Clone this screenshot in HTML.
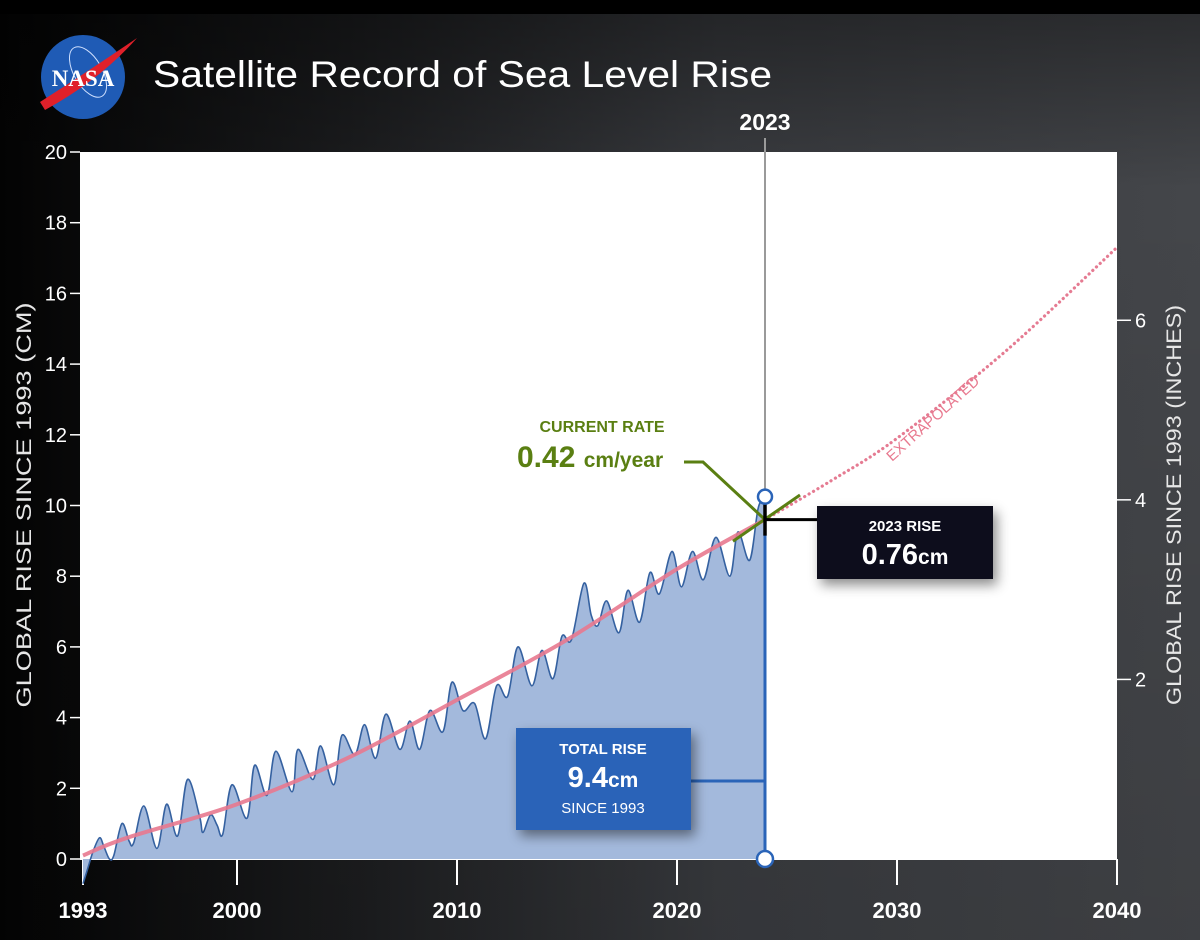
<!DOCTYPE html>
<html><head><meta charset="utf-8">
<style>
html,body{margin:0;padding:0;width:1200px;height:940px;overflow:hidden;background:#000;}
svg{display:block;font-family:"Liberation Sans",Arial,sans-serif;}
</style></head>
<body>
<svg id="chart" width="1200" height="940" viewBox="0 0 1200 940">
<defs>
<linearGradient id="bg" x1="0" y1="0" x2="1" y2="0">
<stop offset="0" stop-color="#030303"/><stop offset="0.3" stop-color="#1c1d1f"/><stop offset="0.6" stop-color="#393b3f"/><stop offset="1" stop-color="#44464a"/>
</linearGradient>
<linearGradient id="bgv" x1="0" y1="0" x2="0" y2="1">
<stop offset="0" stop-color="#000" stop-opacity="0.4"/><stop offset="0.2" stop-color="#000" stop-opacity="0"/><stop offset="1" stop-color="#000" stop-opacity="0.1"/>
</linearGradient>
<filter id="sh" x="-20%" y="-20%" width="150%" height="160%"><feDropShadow dx="4" dy="6" stdDeviation="6" flood-color="#000" flood-opacity="0.45"/></filter>
<clipPath id="plotclip"><rect x="80" y="152" width="1037" height="740"/></clipPath>
</defs>
<rect x="0" y="0" width="1200" height="940" fill="url(#bg)"/>
<rect x="0" y="0" width="1200" height="940" fill="url(#bgv)"/>
<rect x="0" y="0" width="1200" height="14" fill="#000"/>

<g>
<circle cx="83" cy="77" r="42" fill="#1f5bb5"/>
<ellipse cx="88" cy="72" rx="14" ry="28" fill="none" stroke="#cfe0ff" stroke-width="1" transform="rotate(-30 88 72)"/>
<path d="M40 102 Q90 70 137 38 Q100 80 45 110 Z" fill="#e0202a"/>
<text x="83" y="86" text-anchor="middle" fill="#fff" font-family="Liberation Serif,serif" font-weight="bold" font-size="23">NASA</text>
</g>
<text x="153" y="87" fill="#fff" font-size="37" textLength="619" lengthAdjust="spacingAndGlyphs">Satellite Record of Sea Level Rise</text>

<rect x="80" y="152" width="1037" height="707" fill="#fff"/>

<g id="yaxis"></g>
<g id="yaxisR"></g>
<g id="xaxis"></g>
<g id="series" clip-path="url(#plotclip)"></g>
<g id="annot"></g>

<text transform="translate(31 505) rotate(-90)" text-anchor="middle" fill="#e6e6e6" font-size="21" textLength="405" lengthAdjust="spacingAndGlyphs">GLOBAL RISE SINCE 1993 (CM)</text>
<text transform="translate(1181 505) rotate(-90)" text-anchor="middle" fill="#e6e6e6" font-size="21" textLength="400" lengthAdjust="spacingAndGlyphs">GLOBAL RISE SINCE 1993 (INCHES)</text>
</svg>
<script>
const yTicks = [0,2,4,6,8,10,12,14,16,18,20];
const yTicksIn = [2,4,6];
const xTicks = [1993,2000,2010,2020,2030,2040];
const dataYears = [1993.0,1993.2,1993.45,1993.75,1993.95,1994.2,1994.4,1994.77,1995.1,1995.3,1995.77,1996.36,1996.8,1997.3,1997.75,1998.3,1998.45,1998.8,1999.1,1999.35,1999.77,2000.45,2000.8,2001.36,2001.77,2002.5,2002.77,2003.45,2003.8,2004.4,2004.77,2005.36,2005.8,2006.3,2006.77,2007.4,2007.86,2008.3,2008.77,2009.36,2009.77,2010.27,2010.8,2011.3,2011.8,2012.3,2012.77,2013.4,2013.86,2014.36,2014.77,2015.2,2015.77,2016.1,2016.4,2016.8,2017.36,2017.77,2018.3,2018.77,2019.2,2019.77,2020.2,2020.7,2021.2,2021.77,2022.4,2022.77,2023.3,2023.68,2023.95];
const dataValues = [-0.7,-0.3,0.2,0.6,0.35,0.0,0.1,1.0,0.5,0.45,1.5,0.3,1.55,0.65,2.25,1.2,0.75,1.25,0.95,0.7,2.1,1.15,2.65,1.8,3.05,1.9,3.1,2.25,3.2,2.1,3.5,2.95,3.8,2.85,4.1,3.1,3.9,3.1,4.2,3.6,5.0,4.2,4.4,3.4,4.9,4.6,6.0,4.9,5.9,5.1,6.3,6.2,7.8,6.9,6.6,7.3,6.4,7.6,6.7,8.1,7.5,8.7,7.7,8.7,7.9,9.1,8.0,9.25,8.45,9.9,10.2];
const trendYears = [1993,1995,2000,2005,2010,2015,2020,2024];
const trendValues = [0.1,0.6,1.55,2.85,4.5,6.2,8.2,9.6];
const extraYears = [2024,2027,2030,2035,2040];
const extraValues = [9.6,10.7,11.9,14.4,17.3];
const endYear = 2024;
const endValue = 10.25;
const ratePerYear = 0.42;

const NS='http://www.w3.org/2000/svg';
const X0=83, PXY=22, Y0=859, PXC=35.35;
const xs = y => X0 + (y-1993)*PXY;
const ys = v => Y0 - v*PXC;
function mk(tag, attrs, parent, txt){const e=document.createElementNS(NS,tag);for(const k in attrs)e.setAttribute(k,attrs[k]);if(txt!==undefined)e.textContent=txt;parent.appendChild(e);return e;}
function smooth(pts){let d='M'+pts[0][0].toFixed(1)+' '+pts[0][1].toFixed(1);for(let i=0;i<pts.length-1;i++){const p0=pts[Math.max(0,i-1)],p1=pts[i],p2=pts[i+1],p3=pts[Math.min(pts.length-1,i+2)];const c1=[p1[0]+(p2[0]-p0[0])/6,p1[1]+(p2[1]-p0[1])/6],c2=[p2[0]-(p3[0]-p1[0])/6,p2[1]-(p3[1]-p1[1])/6];d+=' C'+c1[0].toFixed(1)+' '+c1[1].toFixed(1)+' '+c2[0].toFixed(1)+' '+c2[1].toFixed(1)+' '+p2[0].toFixed(1)+' '+p2[1].toFixed(1);}return d;}

const ya=document.getElementById('yaxis');
yTicks.forEach(t=>{
  const l=mk('line',{x1:70,x2:80,y1:ys(t),y2:ys(t),stroke:'#fff','stroke-width':1.5},ya);
  
  
  const tx=mk('text',{x:67,y:ys(t)+7,'text-anchor':'end',fill:'#fff','font-size':20},ya,String(t));
  
  
});
const yr=document.getElementById('yaxisR');
yTicksIn.forEach(t=>{
  const y=ys(t*2.54);
  const l=mk('line',{x1:1117,x2:1131,y1:y,y2:y,stroke:'#fff','stroke-width':1.5},yr);
  
  
  const tx=mk('text',{x:1135,y:y+7,fill:'#fff','font-size':20},yr,String(t));
  
  
});
const xa=document.getElementById('xaxis');
mk('line',{x1:80,x2:1117,y1:Y0,y2:Y0,stroke:'#fff','stroke-width':2},xa);
xTicks.forEach(t=>{
  const l=mk('line',{x1:xs(t),x2:xs(t),y1:Y0,y2:885,stroke:'#fff','stroke-width':2},xa);
  
  
  const tx=mk('text',{x:xs(t),y:918,'text-anchor':'middle',fill:'#fff','font-size':22,'font-weight':'bold'},xa,String(t));
  
  
});

const sg=document.getElementById('series');
const pts=dataYears.map((y,i)=>[xs(y),ys(dataValues[i])]);
const line=smooth(pts);
const area=mk('path',{d:line+' L'+xs(endYear)+' '+pts[pts.length-1][1]+' L'+xs(endYear)+' '+Y0+' L'+pts[0][0]+' '+Y0+' Z',fill:'#a3b9dc'},sg);


const dl=mk('path',{d:line,fill:'none',stroke:'#3561a0','stroke-width':1.6},sg);


const tp=trendYears.map((y,i)=>[xs(y),ys(trendValues[i])]);
const tl=mk('path',{d:smooth(tp),fill:'none',stroke:'#e8798f','stroke-width':4,'stroke-opacity':0.9},sg);


const ep=extraYears.map((y,i)=>[xs(y),ys(extraValues[i])]);
const el=mk('path',{d:smooth(ep),fill:'none',stroke:'#e57b92','stroke-width':3.2,'stroke-dasharray':'0.1 5','stroke-linecap':'round'},sg);



const an=document.getElementById('annot');
const ex=xs(endYear), ty=ys(trendValues[trendValues.length-1]);
mk('line',{x1:ex,x2:ex,y1:138,y2:ys(endValue),stroke:'#9a9a9a','stroke-width':2},an);
const yl=mk('text',{x:ex,y:130,'text-anchor':'middle',fill:'#fff','font-size':23,'font-weight':'bold'},an,'2023');


const xt=mk('text',{x:0,y:0,fill:'#e8798f','font-size':15,transform:'translate(892 462) rotate(-42)'},an,'EXTRAPOLATED');


// blue total line
mk('line',{x1:ex,x2:ex,y1:ty,y2:Y0,stroke:'#2a64b8','stroke-width':3},an);
mk('line',{x1:690,x2:ex,y1:781,y2:781,stroke:'#2a64b8','stroke-width':3},an);
// tangent
const dxp=32, dyp=ratePerYear*dxp/PXY*PXC;
const tg=mk('line',{x1:ex-dxp,y1:ty+dyp,x2:ex+dxp+3,y2:ty-dyp-3,stroke:'#5a7f12','stroke-width':3},an);


mk('polyline',{points:'684,462 703,462 '+ex+','+ty,fill:'none',stroke:'#5a7f12','stroke-width':3},an);
mk('line',{x1:ex,x2:ex,y1:ys(endValue)+4,y2:ty+16,stroke:'#000','stroke-width':3.5},an);
mk('line',{x1:ex,x2:820,y1:ty,y2:ty,stroke:'#000','stroke-width':3},an);
mk('circle',{cx:ex,cy:ys(endValue),r:7,fill:'#fff',stroke:'#2a64b8','stroke-width':2.5},an);
mk('circle',{cx:ex,cy:Y0,r:8,fill:'#fff',stroke:'#2a64b8','stroke-width':2.5},an);
// rate text
const r1=mk('text',{x:602,y:432,'text-anchor':'middle',fill:'#5a7f12','font-size':16,'font-weight':'bold'},an,'CURRENT RATE');


const r2=mk('text',{x:517,y:467,fill:'#5a7f12','font-size':30,'font-weight':'bold'},an);


r2.innerHTML='0.42 <tspan font-size="21">cm/year</tspan>';
// 2023 rise box
const b1=mk('g',{filter:'url(#sh)'},an);


mk('rect',{x:817,y:506,width:176,height:73,fill:'#0a0a1e'},b1);
mk('text',{x:905,y:531,'text-anchor':'middle',fill:'#fff','font-size':15,'font-weight':'bold'},b1,'2023 RISE');
const v1=mk('text',{x:905,y:564,'text-anchor':'middle',fill:'#fff','font-size':29,'font-weight':'bold'},b1);
v1.innerHTML='0.76<tspan font-size="21">cm</tspan>';
// total rise box
const b2=mk('g',{filter:'url(#sh)'},an);


mk('rect',{x:516,y:728,width:175,height:102,fill:'#2a64b8'},b2);
mk('text',{x:603,y:754,'text-anchor':'middle',fill:'#fff','font-size':15,'font-weight':'bold'},b2,'TOTAL RISE');
const v2=mk('text',{x:603,y:787,'text-anchor':'middle',fill:'#fff','font-size':29,'font-weight':'bold'},b2);
v2.innerHTML='9.4<tspan font-size="21">cm</tspan>';
mk('text',{x:603,y:813,'text-anchor':'middle',fill:'#fff','font-size':15},b2,'SINCE 1993');
</script>
</body></html>
